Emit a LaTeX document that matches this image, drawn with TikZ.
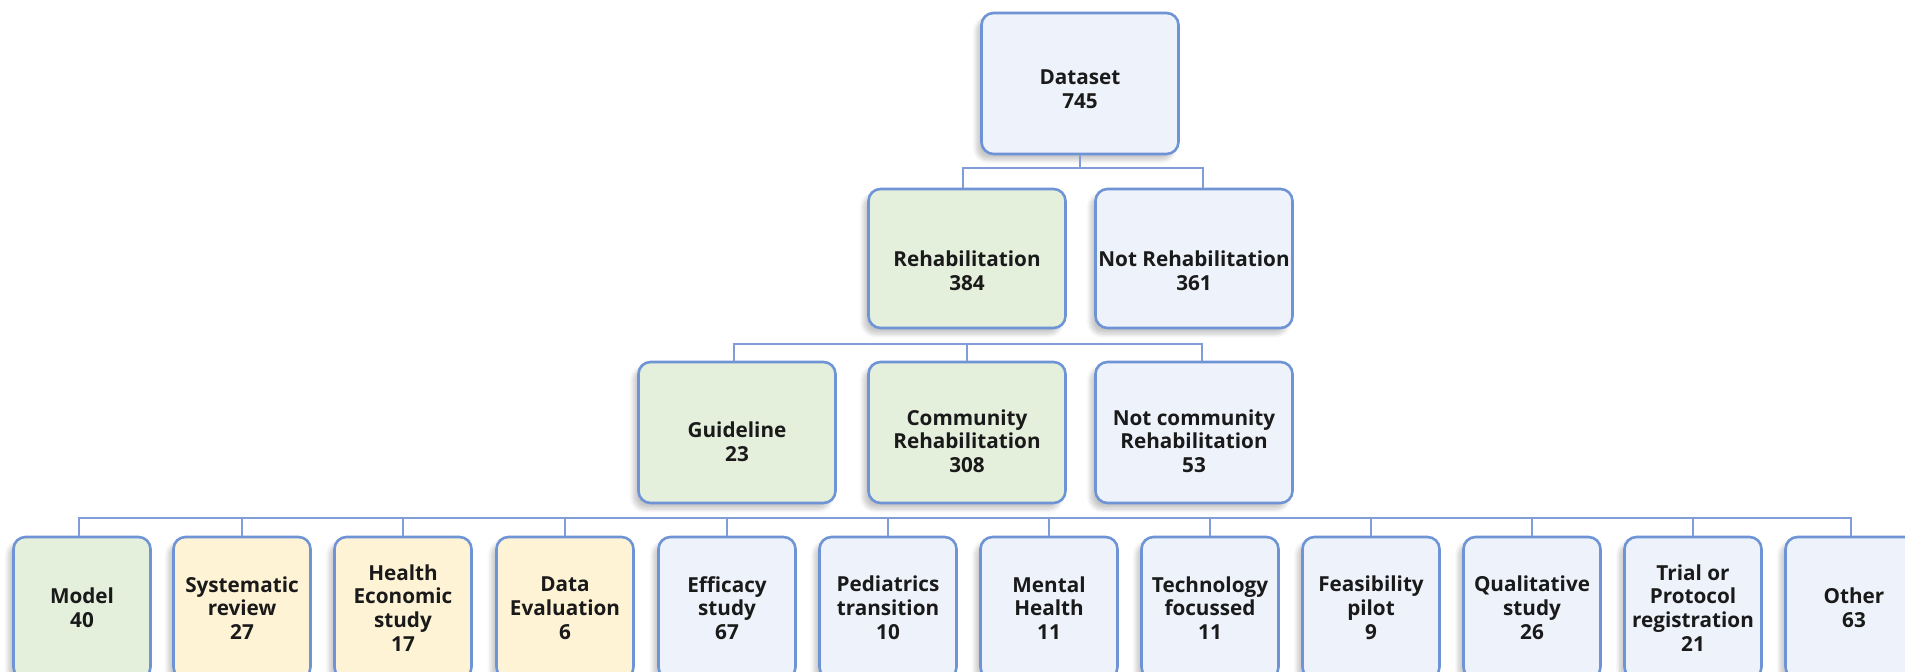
\documentclass[tikz,border=0pt]{standalone}
\usepackage{fontspec}
\setmainfont{Open Sans}
\usetikzlibrary{shadows.blur}
\definecolor{bordc}{HTML}{6E94D6}
\definecolor{linec}{HTML}{809DD8}
\definecolor{bluef}{HTML}{EEF2FA}
\definecolor{greenf}{HTML}{E4EFDC}
\definecolor{yellf}{HTML}{FFF3D6}
\definecolor{txt}{HTML}{1A1A1A}
\newcommand\lwr[1]{\rule{0pt}{#1}}
\begin{document}
\begin{tikzpicture}[x=0.5pt,y=-0.5pt,
  box/.style={draw=bordc, line width=1.3pt, rounded corners=6pt, align=center,
    font=\fontsize{10.35}{11.9}\selectfont\bfseries, text=txt, inner sep=0pt,
    blur shadow={shadow xshift=-2.5pt, shadow yshift=-3pt, shadow blur steps=8, shadow opacity=22}},
  big/.style={box, minimum width=98.5pt, minimum height=70.5pt},
  small/.style={box, minimum width=68.5pt, minimum height=71pt},
  bl/.style={fill=bluef}, gr/.style={fill=greenf}, ye/.style={fill=yellf},
  conn/.style={draw=linec, line width=1.2pt}]
\useasboundingbox (0,0) rectangle (1905,672);
\clip (0,0) rectangle (1905,672);

% level 1
\node[big,bl] (ds) at (1080,83.5) {\lwr{13pt}Dataset\\745};
% level 2
\node[big,gr,minimum height=69.5pt] (rehab) at (967,258.5) {\lwr{20.5pt}Rehabilitation\\384};
\node[big,bl,minimum height=69.5pt] (notrehab) at (1194,258.5) {\lwr{20.5pt}Not Rehabilitation\\361};
% level 3
\node[big,gr] (guide) at (737,432.5) {\lwr{17.5pt}Guideline\\23};
\node[big,gr] (comm) at (967,432.5) {\lwr{16.5pt}Community\\Rehabilitation\\308};
\node[big,bl] (notcomm) at (1194,432.5) {\lwr{16.5pt}Not community\\Rehabilitation\\53};
% level 4
\node[small,gr] (n1) at (82,608) {Model\\40};
\node[small,ye] (n2) at (242,608) {Systematic\\review\\27};
\node[small,ye] (n3) at (403,608) {Health\\Economic\\study\\17};
\node[small,ye] (n4) at (565,608) {Data\\Evaluation\\6};
\node[small,bl] (n5) at (727,608) {Efficacy\\study\\67};
\node[small,bl] (n6) at (888,608) {Pediatrics\\transition\\10};
\node[small,bl] (n7) at (1049,608) {Mental\\Health\\11};
\node[small,bl] (n8) at (1210,608) {Technology\\focussed\\11};
\node[small,bl] (n9) at (1371,608) {Feasibility\\pilot\\9};
\node[small,bl] (n10) at (1532,608) {Qualitative\\study\\26};
\node[small,bl] (n11) at (1693,608) {Trial or\\Protocol\\registration\\21};
\node[small,bl] (n12) at (1854,608) {Other\\63};

% connectors
\coordinate (bus1) at (1080,168);
\coordinate (bus2) at (967,344);
\coordinate (bus3) at (967,518);
\draw[conn] (ds.south) -- (bus1);
\draw[conn] ([xshift=-2pt]rehab.north) |- (bus1) -| ([xshift=4.5pt]notrehab.north);
\draw[conn] ([xshift=-1.5pt]guide.north) |- (bus2) -| ([xshift=4pt]notcomm.north);
\draw[conn] (comm.north) -- (comm.north |- bus2);
\draw[conn] ([xshift=-1.5pt]n1.north) |- (bus3) -| ([xshift=-1.5pt]n12.north);
\foreach \i in {2,...,11} {\draw[conn] (n\i.north) -- (n\i.north |- bus3);}
\end{tikzpicture}
\end{document}
